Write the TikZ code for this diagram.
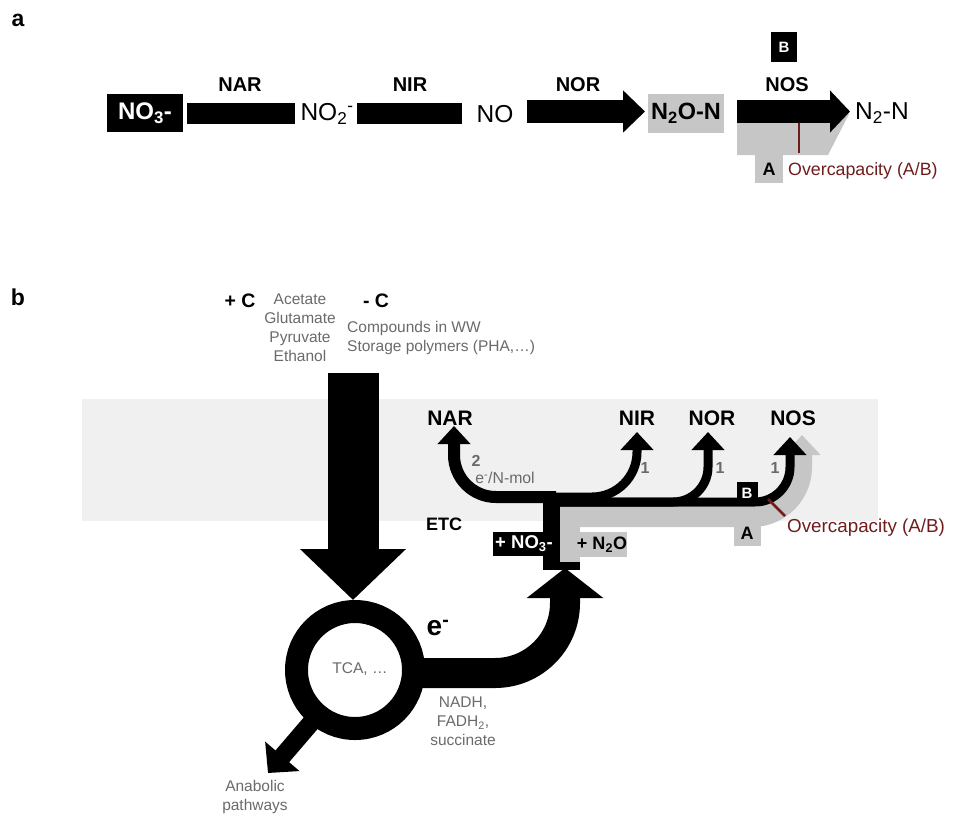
\documentclass[tikz,border=0pt]{standalone}
\usepackage{fontspec}
\setmainfont{Liberation Sans}
\usetikzlibrary{arrows.meta}
\definecolor{band}{HTML}{F0F0F0}
\definecolor{boxgray}{HTML}{C6C6C6}
\definecolor{labgray}{HTML}{6A6A6A}
\definecolor{overred}{HTML}{701C1C}
\newcommand{\pxsize}[1]{\fontsize{#1}{#1}\selectfont}
\tikzset{
  panel/.style={font=\bfseries\pxsize{23}, inner sep=0pt},
  enz/.style={font=\bfseries\pxsize{20}, inner sep=0pt},
  enzb/.style={font=\bfseries\pxsize{21}, inner sep=0pt},
  chem/.style={font=\pxsize{24.5}, inner sep=0pt},
  note/.style={font=\fontsize{15.5}{19}\selectfont, text=labgray, inner sep=0pt},
  ratio/.style={font=\bfseries\pxsize{16}, text=labgray, inner sep=0pt},
  over/.style={font=\pxsize{18.8}, text=overred, inner sep=0pt, anchor=west},
  blackbox/.style={fill=black, text=white, inner sep=0pt},
  graybox/.style={fill=boxgray, text=black, inner sep=0pt},
  bar/.style={line width=21pt},
  fatarrow/.style={line width=23pt, -{Triangle[length=22pt,width=41pt]}},
  branch/.style={line width=9pt, rounded corners=35pt, -{Triangle[length=18pt,width=32pt]}},
  overline/.style={overred, line width=2.5pt}
}
\begin{document}
\begin{tikzpicture}[x=1pt,y=-1pt]
  \useasboundingbox (0,0) rectangle (955,815);
  \draw
    (18,20) node[panel] (pa){a}
    (18,297) node[panel] (pb){b};

  \fill[boxgray] (737,112) -- (737,155) -- (828,155) -- (849,114) -- (838,112) -- cycle;
  \draw
    (145,113) node[blackbox, minimum width=76pt, minimum height=38pt, font=\bfseries\pxsize{24}] (no3){NO\textsubscript{3}-}
    (327,114) node[chem] (no2){NO\textsubscript{2}\textsuperscript{-}}
    (495,114) node[chem] (no){NO}
    (686,113.5) node[graybox, minimum width=76pt, minimum height=39pt, font=\bfseries\pxsize{23.5}] (n2o){N\textsubscript{2}O-N}
    (855,113) node[chem, anchor=west] (n2){N\textsubscript{2}-N}
    (769,169) node[graybox, minimum width=28pt, minimum height=28pt, font=\bfseries\pxsize{18}] (boxa){A}
    (784,47) node[blackbox, minimum width=26pt, minimum height=30pt, font=\bfseries\pxsize{15}] (boxb){B}
    (240,85) node[enz] (nar){NAR}
    (410,85) node[enz] (nir){NIR}
    (578,85) node[enz] (nor){NOR}
    (787,85) node[enz] (nos){NOS}
    (788,171) node[over, font=\pxsize{17.8}] (overa){Overcapacity (A/B)};
  \coordinate (narL) at (187,113.5);
  \coordinate (narR) at (295,113.5);
  \coordinate (nirL) at (357,113.5);
  \coordinate (nirR) at (462,113.5);
  \coordinate (norL) at (527,111.5);
  \coordinate (norR) at (645,111.5);
  \coordinate (nosL) at (737,111.5);
  \coordinate (nosR) at (850,111.5);
  \begin{scope}
    \draw[bar] (narL) -- (narR);
    \draw[bar] (nirL) -- (nirR);
    \draw[fatarrow] (norL) -- (norR);
    \draw[fatarrow, -{Triangle[length=20pt,width=41pt]}] (nosL) -- (nosR);
    \draw[overline] (799,123) -- (799,153);
  \end{scope}

  \fill[band] (82,399) rectangle (878,521);
  \draw
    (240,301) node[font=\bfseries\pxsize{19.5}, inner sep=0pt] (plusc){+ C}
    (300,327.5) node[note, align=center] (csrc){Acetate\\Glutamate\\Pyruvate\\Ethanol}
    (376,301) node[font=\bfseries\pxsize{19.5}, inner sep=0pt] (minusc){- C}
    (347,337.5) node[note, align=left, anchor=west] (cint){Compounds in WW\\Storage polymers (PHA,\dots)};

  \fill[boxgray] (560,507) rectangle (580,562);
  \fill[boxgray] (560,532) rectangle (627,557);
  \draw[boxgray, line width=20pt, rounded corners=50pt, -{Triangle[length=20pt,width=36pt]}]
    (560,517) -- (802,517) -- (802,435);
  \draw
    (747,533) node[graybox, minimum width=27pt, minimum height=26pt, font=\bfseries\pxsize{18}] (boxa2){A};

  \draw[line width=51pt, -{Triangle[length=51pt,width=103pt]}] (353,373) -- (353,600);
  \draw[line width=23pt] (355,670) circle (58.5);
  \draw[line width=30pt, rounded corners=70pt, -{Triangle[length=30pt,width=75pt]}]
    (410,673) -- (565,673) -- (565,568);
  \draw[line width=18pt, -{Triangle[length=22pt,width=44pt]}] (322,710) -- (268,773);

  \fill (543,497) rectangle (560,570);
  \fill (543,562) rectangle (580,570);
  \begin{scope}
    \draw[branch, line width=12pt, rounded corners=42pt] (556,497) -- (454,497) -- (454,426);
    \draw[branch, rounded corners=45pt] (545,497) -- (637,497) -- (637,432);
    \draw[branch] (545,502) -- (708,502) -- (708,432);
    \draw[branch] (545,502) -- (790,502) -- (790,437);
    \draw[overline] (768,499) -- (785,516);
  \end{scope}
  \draw
    (747,493) node[blackbox, minimum width=21pt, minimum height=22pt, font=\bfseries\pxsize{15}] (boxb2){B}
    (524,544) node[blackbox, minimum width=62pt, minimum height=24pt, font=\bfseries\pxsize{18.5}] (addno3){+ NO\textsubscript{3}-}
    (602,545) node[font=\bfseries\pxsize{18}, inner sep=0pt] (addn2o){+ N\textsubscript{2}O}
    (450,418) node[enzb] (narb){NAR}
    (637,418) node[enzb] (nirb){NIR}
    (712,418) node[enzb] (norb){NOR}
    (793,418) node[enzb] (nosb){NOS}
    (476,461) node[ratio] (two){2}
    (505,478) node[note, font=\pxsize{15.8}] (emol){e\textsuperscript{-}/N-mol}
    (645,468) node[ratio] (onea){1}
    (720,468) node[ratio] (oneb){1}
    (775,468) node[ratio] (onec){1}
    (444,524) node[font=\bfseries\pxsize{18}, inner sep=0pt] (etc){ETC}
    (787,528) node[over] (overb){Overcapacity (A/B)}
    (360,669) node[note] (tca){TCA, \dots}
    (438,628) node[font=\bfseries\pxsize{28}, inner sep=0pt] (elec){e\textsuperscript{-}}
    (463,721.5) node[note, align=center] (nadh){NADH,\\FADH\textsubscript{2},\\succinate}
    (255,796.5) node[note, align=center] (anab){Anabolic\\pathways};
\end{tikzpicture}
\end{document}
